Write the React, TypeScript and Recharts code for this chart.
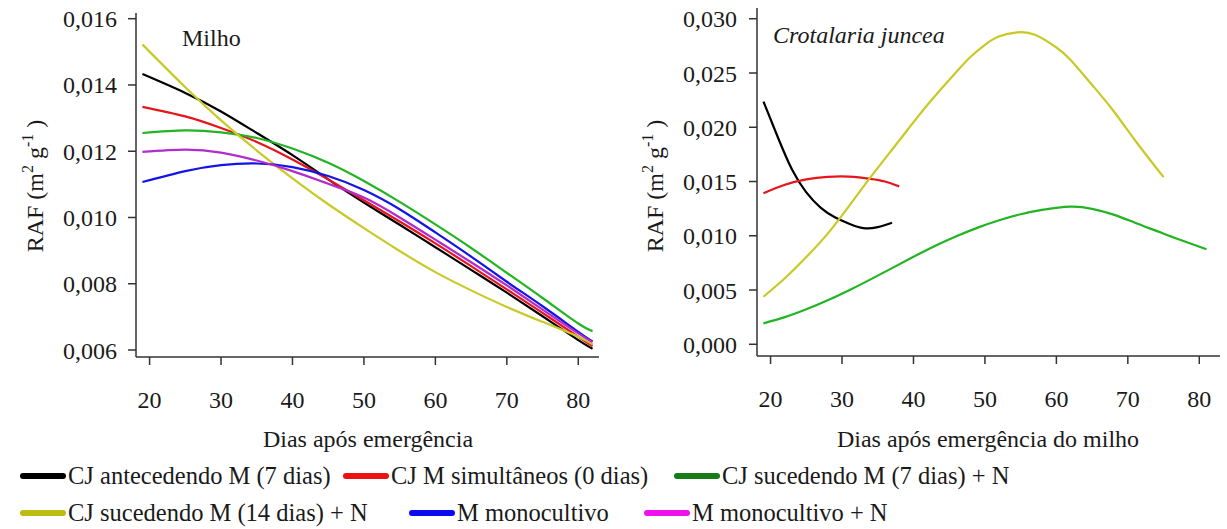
import React from 'react'
import { LineChart, Line, XAxis, YAxis } from 'recharts'

// Milho (left panel) - all curves share the same days
const MILHO_DIAS = [19, 25, 30, 35, 40, 45, 50, 55, 60, 65, 70, 75, 80, 82]
const MILHO_ANT7 = [0.01433, 0.01376, 0.0132, 0.01255, 0.01188, 0.01115, 0.01045, 0.00978, 0.0091, 0.00842, 0.00773, 0.00702, 0.0063, 0.00604]
const MILHO_SIM0 = [0.01334, 0.01305, 0.0127, 0.01228, 0.01175, 0.01115, 0.01052, 0.00988, 0.00922, 0.00853, 0.00783, 0.00712, 0.0064, 0.00612]
const MILHO_SUC7 = [0.01255, 0.01263, 0.01257, 0.0124, 0.01208, 0.01165, 0.0111, 0.01047, 0.00979, 0.00908, 0.00833, 0.00757, 0.0068, 0.00657]
const MILHO_SUC14 = [0.01522, 0.01393, 0.01293, 0.01202, 0.01118, 0.0104, 0.00968, 0.00899, 0.00835, 0.0078, 0.0073, 0.00685, 0.0064, 0.00617]
const MILHO_MONO = [0.01107, 0.0114, 0.01158, 0.01163, 0.01152, 0.01125, 0.01083, 0.01025, 0.00955, 0.00882, 0.00806, 0.00732, 0.00655, 0.00626]
const MILHO_MONO_N = [0.01198, 0.01205, 0.01196, 0.01172, 0.0114, 0.01102, 0.0106, 0.01, 0.00933, 0.00865, 0.00795, 0.00722, 0.0065, 0.00624]

// Crotalaria juncea (right panel) - each curve has its own days
const CJ_ANT7_DIAS = [19, 21, 23, 25, 27, 29, 31, 33, 35, 37]
const CJ_ANT7 = [0.02237, 0.0191, 0.0161, 0.014, 0.0126, 0.0117, 0.0111, 0.0107, 0.0108, 0.0112]
const CJ_SIM0_DIAS = [19, 22, 25, 28, 31, 34, 36, 38]
const CJ_SIM0 = [0.01392, 0.0147, 0.0152, 0.01543, 0.01545, 0.01525, 0.015, 0.01455]
const CJ_SUC7_DIAS = [19, 22, 25, 28, 31, 34, 37, 40, 43, 46, 49, 52, 55, 58, 62, 65, 68, 71, 74, 77, 81]
const CJ_SUC7 = [0.00193, 0.0025, 0.00322, 0.00405, 0.00498, 0.00598, 0.00702, 0.00806, 0.00905, 0.00995, 0.01075, 0.01143, 0.01198, 0.01238, 0.01268, 0.01248, 0.01195, 0.0112, 0.01045, 0.0097, 0.00875]
const CJ_SUC14_DIAS = [19, 22, 25, 28, 31, 34, 38, 42, 46, 48, 50, 52, 54.5, 57, 60, 62, 65, 68, 71, 75]
const CJ_SUC14 = [0.00438, 0.00608, 0.00804, 0.0102, 0.01275, 0.0154, 0.01878, 0.0221, 0.0251, 0.0265, 0.0276, 0.02838, 0.02875, 0.02852, 0.02735, 0.0262, 0.0239, 0.0215, 0.0188, 0.0154]

const X_TICKS = [20, 30, 40, 50, 60, 70, 80]
const MILHO_Y_TICKS = [0.006, 0.008, 0.01, 0.012, 0.014, 0.016]
const CJ_Y_TICKS = [0, 0.005, 0.01, 0.015, 0.02, 0.025, 0.03]

const SERIES = [
  { name: 'CJ antecedendo M (7 dias)', line: '#000000', swatch: '#000000' },
  { name: 'CJ M simultâneos (0 dias)', line: '#e8141b', swatch: '#ee1111' },
  { name: 'CJ sucedendo M (7 dias) + N', line: '#22b422', swatch: '#167d16' },
  { name: 'CJ sucedendo M (14 dias) + N', line: '#c9c926', swatch: '#bcbc12' },
  { name: 'M monocultivo', line: '#1414e6', swatch: '#0a0af0' },
  { name: 'M monocultivo + N', line: '#b02ccc', swatch: '#ee11ee' },
]

const pts = (dias: number[], vals: number[]) => dias.map((d, i) => ({ d, v: vals[i] }))

const milhoData = [MILHO_ANT7, MILHO_SIM0, MILHO_SUC7, MILHO_SUC14, MILHO_MONO, MILHO_MONO_N].map((vals) => pts(MILHO_DIAS, vals))
const cjData: (null | { d: number; v: number }[])[] = [
  pts(CJ_ANT7_DIAS, CJ_ANT7),
  pts(CJ_SIM0_DIAS, CJ_SIM0),
  pts(CJ_SUC7_DIAS, CJ_SUC7),
  pts(CJ_SUC14_DIAS, CJ_SUC14),
  null,
  null,
]

const FONT = '"Liberation Serif", "Times New Roman", serif'
const INK = '#1a1a1a'
const AXIS = '#333333'
const fmt = (v: number) => v.toFixed(3).replace('.', ',')

function RafTitle({ x, y }: { x: number; y: number }) {
  return (
    <text transform={`translate(${x}, ${y}) rotate(-90)`} textAnchor="middle" fontSize={24} fontFamily={FONT} fill={INK}>
      RAF (m
      <tspan fontSize={16} dy={-10}>2</tspan>
      <tspan dy={10}> g</tspan>
      <tspan fontSize={16} dy={-10}>-1</tspan>
      <tspan dy={10}> )</tspan>
    </text>
  )
}

function Panel({ data, yDomain, yTicks, tickMargin, title, italic, titleX, titleY, xTitle, margin }: any) {
  return (
    <LineChart width={620} height={460} margin={margin}>
      <XAxis
        type="number"
        dataKey="d"
        domain={[18.1, 82.9]}
        ticks={X_TICKS}
        allowDataOverflow
        height={40}
        tickSize={8}
        tickMargin={26}
        axisLine={{ stroke: AXIS, strokeWidth: 1.5 }}
        tickLine={{ stroke: AXIS, strokeWidth: 1.5 }}
        tick={{ fill: INK, fontSize: 24, fontFamily: FONT }}
      />
      <YAxis
        type="number"
        domain={yDomain}
        ticks={yTicks}
        allowDataOverflow
        width={100}
        tickSize={8}
        tickMargin={tickMargin}
        tickFormatter={fmt}
        axisLine={{ stroke: AXIS, strokeWidth: 1.5 }}
        tickLine={{ stroke: AXIS, strokeWidth: 1.5 }}
        tick={{ fill: INK, fontSize: 24, fontFamily: FONT }}
      />
      {data.map((d: any, i: number) =>
        d ? (
          <Line
            key={i}
            data={d}
            dataKey="v"
            type="natural"
            stroke={SERIES[i].line}
            strokeWidth={2.2}
            dot={false}
            activeDot={false}
            isAnimationActive={false}
          />
        ) : null
      )}
      <text x={titleX} y={titleY} fontSize={24} fontFamily={FONT} fontStyle={italic ? 'italic' : 'normal'} fill={INK}>
        {title}
      </text>
      <RafTitle x={43} y={186} />
      <text x={368} y={447} textAnchor="middle" fontSize={24} fontFamily={FONT} fill={INK}>
        {xTitle}
      </text>
    </LineChart>
  )
}

const LEGEND_ROWS = [
  { y: 484, items: [{ s: 0, x: 20 }, { s: 1, x: 343 }, { s: 2, x: 674 }] },
  { y: 521, items: [{ s: 3, x: 20 }, { s: 4, x: 409 }, { s: 5, x: 644 }] },
]

export default function App() {
  return (
    <div style={{ position: 'absolute', left: 0, top: 0, width: 1227, height: 529, background: '#fff', overflow: 'hidden', fontFamily: FONT }}>
      <div style={{ position: 'absolute', left: 0, top: 0 }}>
        <Panel
          data={milhoData}
          yDomain={[0.005789, 0.016172]}
          yTicks={MILHO_Y_TICKS}
          tickMargin={11}
          title="Milho"
          titleX={182}
          titleY={46}
          xTitle="Dias após emergência"
          margin={{ top: 13, right: 21, bottom: 63, left: 36 }}
        />
      </div>
      <div style={{ position: 'absolute', left: 620, top: 0 }}>
        <Panel
          data={cjData}
          yDomain={[-0.00108, 0.03099]}
          yTicks={CJ_Y_TICKS}
          tickMargin={12}
          title="Crotalaria juncea"
          italic
          titleX={153}
          titleY={43}
          xTitle="Dias após emergência do milho"
          margin={{ top: 8, right: 20, bottom: 64, left: 37 }}
        />
      </div>
      <svg width={1227} height={529} style={{ position: 'absolute', left: 0, top: 0, pointerEvents: 'none' }}>
        {LEGEND_ROWS.map((row, r) =>
          row.items.map((it) => (
            <g key={`${r}-${it.s}`}>
              <line x1={it.x + 3} x2={it.x + 43} y1={row.y - 8} y2={row.y - 8} stroke={SERIES[it.s].swatch} strokeWidth={6} strokeLinecap="round" />
              <text x={it.x + 48} y={row.y} fontSize={24.5} fontFamily={FONT} fill={INK}>
                {SERIES[it.s].name}
              </text>
            </g>
          ))
        )}
      </svg>
    </div>
  )
}
